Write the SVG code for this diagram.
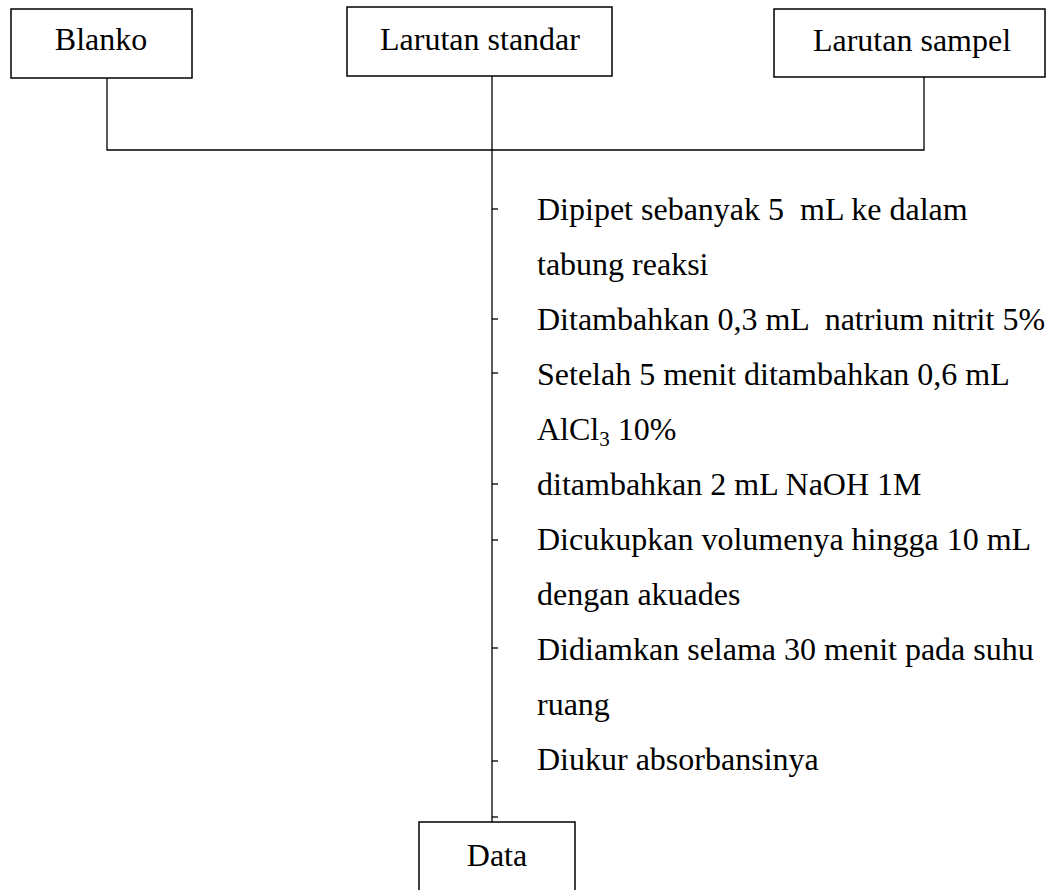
<svg xmlns="http://www.w3.org/2000/svg" width="1046" height="890" viewBox="0 0 1046 890">
<style>
.box{fill:#fff;stroke:#000;stroke-width:1.5}
.ln{fill:none;stroke:#000;stroke-width:1.3}
text{font-family:"Liberation Serif","Times New Roman",serif;font-size:32px;fill:#000;white-space:pre}
.c{text-anchor:middle}
</style>
<rect width="1046" height="890" fill="#fff"/>
<g id="connectors">
<polyline class="ln" points="107,78 107,150 924,150 924,77"/>
<line class="ln" x1="492" y1="76" x2="492" y2="822"/>
<g class="ln">
<line x1="492" y1="209" x2="498" y2="209"/>
<line x1="492" y1="319" x2="498" y2="319"/>
<line x1="492" y1="373" x2="498" y2="373"/>
<line x1="492" y1="484" x2="498" y2="484"/>
<line x1="492" y1="540" x2="498" y2="540"/>
<line x1="492" y1="648" x2="498" y2="648"/>
<line x1="492" y1="761" x2="498" y2="761"/>
<line x1="492" y1="817" x2="498" y2="817"/>
</g>
</g>
<g id="blanko"><rect class="box" x="11" y="9" width="181" height="69"/><text class="c" x="101" y="50">Blanko</text></g>
<g id="standar"><rect class="box" x="347" y="7" width="265" height="69"/><text class="c" x="480" y="50">Larutan standar</text></g>
<g id="sampel"><rect class="box" x="774" y="9" width="271" height="68"/><text class="c" x="912" y="51">Larutan sampel</text></g>
<g id="steps">
<text x="537" y="220">Dipipet sebanyak 5  mL ke dalam</text>
<text x="537" y="275">tabung reaksi</text>
<text x="537" y="330">Ditambahkan 0,3 mL  natrium nitrit 5%</text>
<text x="537" y="385">Setelah 5 menit ditambahkan 0,6 mL</text>
<text x="537" y="440">AlCl<tspan font-size="21" dy="6">3</tspan><tspan dy="-6"> 10%</tspan></text>
<text x="537" y="495">ditambahkan 2 mL NaOH 1M</text>
<text x="537" y="550">Dicukupkan volumenya hingga 10 mL</text>
<text x="537" y="605">dengan akuades</text>
<text x="537" y="660">Didiamkan selama 30 menit pada suhu</text>
<text x="537" y="715">ruang</text>
<text x="537" y="770">Diukur absorbansinya</text>
</g>
<g id="data"><rect class="box" x="419" y="822" width="156" height="90"/><text class="c" x="497" y="866">Data</text></g>
</svg>
